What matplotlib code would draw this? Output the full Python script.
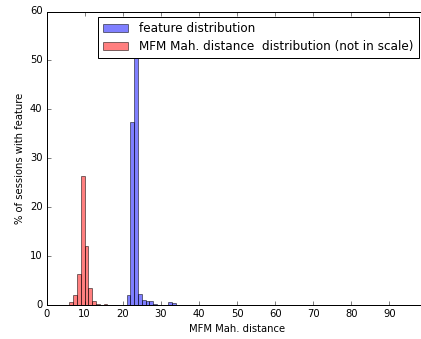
import matplotlib
matplotlib.use("Agg")
import matplotlib.pyplot as plt
import numpy as np

plt.style.use("classic")

# Histogram bins (left edges, width 1) and heights in % of sessions
feature_edges = [21, 22, 23, 24, 25, 26, 27, 28, 29, 30, 31, 32, 33, 34, 35, 36, 37, 38, 39, 40, 41, 42, 43]
feature_pct = [2.0, 37.5, 53.0, 2.2, 1.0, 0.8, 0.9, 0.15, 0.1, 0.1, 0.05, 0.6, 0.4, 0.1, 0.05, 0.05, 0.05, 0.05, 0.05, 0.03, 0.03, 0.03, 0.03]

mfm_edges = [6, 7, 8, 9, 10, 11, 12, 13, 14, 15]
mfm_pct = [0.7, 2.1, 6.4, 26.4, 12.1, 3.4, 0.8, 0.3, 0.1, 0.3]

xticks = [0, 10, 20, 30, 40, 50, 60, 70, 80, 90]
yticks = [0, 10, 20, 30, 40, 50, 60]

dpi = 72
W, H = 421, 339
fig = plt.figure(figsize=(W / dpi, H / dpi), dpi=dpi, facecolor="white")
# axes runs slightly past the right edge of the canvas
ax = fig.add_axes([46.5 / W, 1 - 305 / H, (427.5 - 46.5) / W, (305 - 11.5) / H])

ax.bar(feature_edges, feature_pct, width=1.0, align="edge", color="b",
       edgecolor="k", alpha=0.5, label="feature distribution")
ax.bar(mfm_edges, mfm_pct, width=1.0, align="edge", color="r",
       edgecolor="k", alpha=0.5,
       label="MFM Mah. distance  distribution (not in scale)")

ax.set_xlim(0, 100)
ax.set_ylim(0, 60)
ax.set_xticks(xticks)
ax.set_yticks(yticks)
ax.tick_params(labelsize=10)
ax.set_xlabel("MFM Mah. distance", fontsize=10)
ax.set_ylabel("% of sessions with feature", fontsize=10)

leg = ax.legend(loc="upper right", fontsize=12, borderaxespad=0,
                labelspacing=0.38, handlelength=2.1, handletextpad=0.9,
                borderpad=0.45,
                bbox_to_anchor=(419 / W, 1 - 17 / H),
                bbox_transform=fig.transFigure)

fig.savefig("out.png", dpi=dpi, facecolor="white")
